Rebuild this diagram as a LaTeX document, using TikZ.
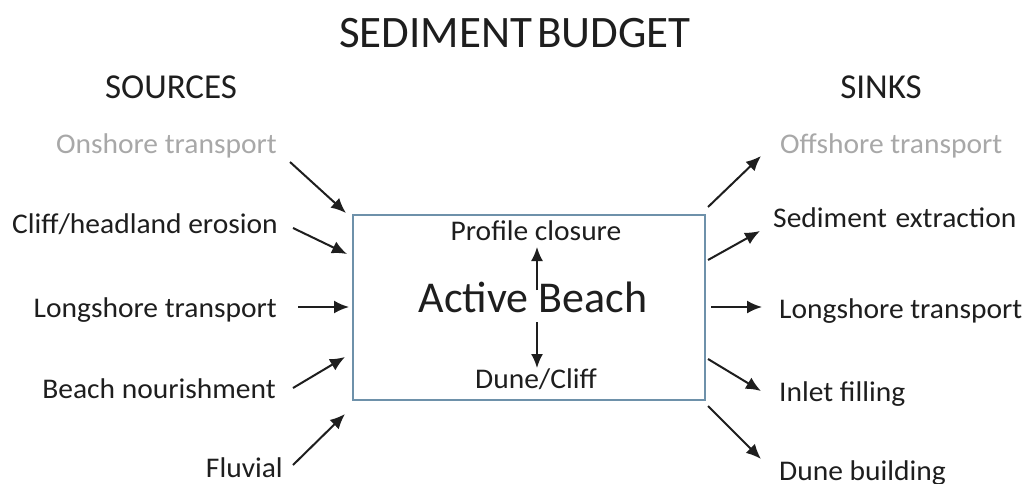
\documentclass[tikz,border=0pt]{standalone}
\usepackage{fontspec}
\setmainfont{Carlito}
\newfontfamily\widefont[FakeStretch=1.035]{Carlito}
\usetikzlibrary{arrows.meta}
\definecolor{txt}{RGB}{30,30,30}
\definecolor{faint}{RGB}{168,168,168}
\definecolor{boxline}{RGB}{110,145,170}
\tikzset{
  lbl/.style={inner sep=0pt, text=txt, font=\widefont\fontsize{28.5}{30}\selectfont},
  lblL/.style={lbl, anchor=base east},
  lblR/.style={lbl, anchor=base west},
  head/.style={inner sep=0pt, text=txt, anchor=base, font=\fontsize{35}{38}\selectfont},
  flow/.style={draw=txt, line width=2pt, -{Latex[length=15pt,width=13pt]}},
  inner/.style={draw=txt, line width=1.8pt, -{Latex[length=14pt,width=12pt]}}
}
\begin{document}
\begin{tikzpicture}[x=1pt,y=-1pt]
\useasboundingbox (0,0) rectangle (1024,483);
\fill[white] (0,0) rectangle (1024,483);

% title and headings
\node[head, font=\fontsize{45}{48}\selectfont] (title) at (515,47) {SEDIMENT\hspace{0.12em}BUDGET};
\node[head] (sources) at (171,98) {SOURCES};
\node[head] (sinks) at (881,98) {SINKS};

% central box
\node[draw=boxline, line width=1.5pt, minimum width=352pt, minimum height=185pt, inner sep=0pt] (box) at (529,307.5) {};
\node[inner sep=0pt, anchor=base, text=txt, font=\fontsize{44}{46}\selectfont] (active) at (533,312) {Active Beach};
\node[lbl, anchor=base] (profile) at (536,240) {Profile closure};
\node[lbl, anchor=base] (dune) at (536,388) {Dune/Cliff};
\coordinate (upTail) at (537,290);
\coordinate (upTip) at (537,247);
\coordinate (dnTail) at (537,322);
\coordinate (dnTip) at (537,368);
\draw[inner] (upTail) -- (upTip);
\draw[inner] (dnTail) -- (dnTip);

% sources
\node[lblL, text=faint] (s1) at (277,153) {Onshore transport};
\node[lblL] (s2) at (278,233) {Cliff/headland erosion};
\node[lblL] (s3) at (277,317) {Longshore transport};
\node[lblL] (s4) at (276,398) {Beach nourishment};
\node[lblL] (s5) at (283,477) {Fluvial};

\coordinate (s1t) at (290,162); \coordinate (s1h) at (346,213);
\coordinate (s2t) at (293,228); \coordinate (s2h) at (347,254);
\coordinate (s3t) at (298,307); \coordinate (s3h) at (349,307);
\coordinate (s4t) at (293,388); \coordinate (s4h) at (345,357);
\coordinate (s5t) at (293,465); \coordinate (s5h) at (345,414);
\draw[flow] (s1t) -- (s1h);
\draw[flow] (s2t) -- (s2h);
\draw[flow] (s3t) -- (s3h);
\draw[flow] (s4t) -- (s4h);
\draw[flow] (s5t) -- (s5h);

% sinks
\node[lblR, text=faint] (k1) at (780,153) {Offshore transport};
\node[lblR] (k2) at (773,227) {Sediment\hspace{0.3em}extraction};
\node[lblR] (k3) at (779,318) {Longshore transport};
\node[lblR] (k4) at (779,401) {Inlet filling};
\node[lblR] (k5) at (779,480) {Dune building};

\coordinate (k1t) at (708,207); \coordinate (k1h) at (761,156);
\coordinate (k2t) at (708,260); \coordinate (k2h) at (760,231);
\coordinate (k3t) at (711,307); \coordinate (k3h) at (762,307);
\coordinate (k4t) at (708,359); \coordinate (k4h) at (761,391);
\coordinate (k5t) at (708,406); \coordinate (k5h) at (761,459);
\draw[flow] (k1t) -- (k1h);
\draw[flow] (k2t) -- (k2h);
\draw[flow] (k3t) -- (k3h);
\draw[flow] (k4t) -- (k4h);
\draw[flow] (k5t) -- (k5h);
\end{tikzpicture}
\end{document}
